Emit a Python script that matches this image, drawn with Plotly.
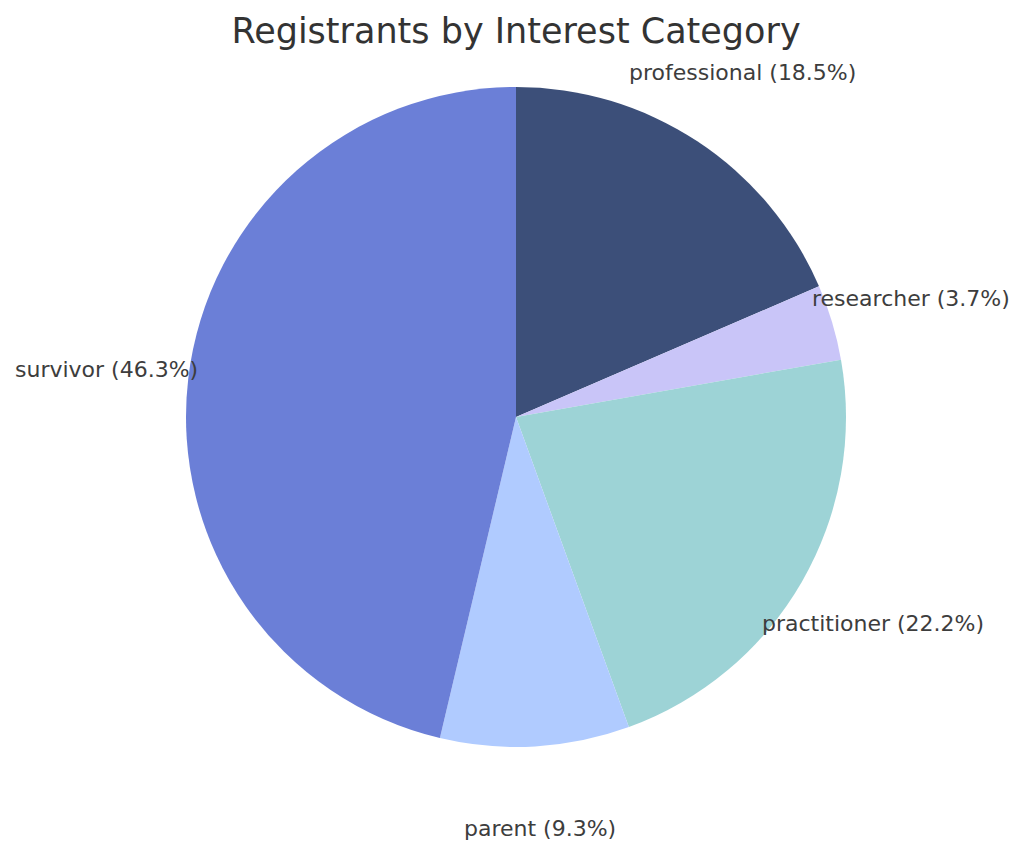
import numpy as np
import plotly.graph_objects as go

categories = ["professional", "researcher", "practitioner", "parent", "survivor"]
counts = [10, 2, 12, 5, 25]
colors = ["#3c4f79", "#c9c5f8", "#9dd3d6", "#b0cbff", "#6b7fd7"]

W, H = 1024, 856
OFF = 8  # default page body margin
cx_px, cy_px, r_px = 516 - OFF, 417 - OFF, 330

fig = go.Figure(go.Pie(
    labels=categories, values=counts, sort=False, direction="clockwise",
    rotation=0, marker=dict(colors=colors, line=dict(width=0)),
    textinfo="none", hoverinfo="label+percent", showlegend=False,
    domain=dict(x=[(cx_px - r_px) / W, (cx_px + r_px) / W],
                y=[1 - (cy_px + r_px) / H, 1 - (cy_px - r_px) / H]),
))

vals = np.array(counts, dtype=float)
frac = vals / vals.sum()
cum = np.concatenate([[0], np.cumsum(frac)])
mid = (cum[:-1] + cum[1:]) / 2 * 2 * np.pi  # clockwise from top
dist = 1.25 * r_px
for cat, f, a in zip(categories, frac, mid):
    x = cx_px + dist * np.sin(a)
    y = cy_px - dist * np.cos(a)
    fig.add_annotation(x=x / W, y=1 - y / H, xref="paper", yref="paper",
                       text=f"{cat} ({f*100:.1f}%)", showarrow=False,
                       xanchor="center", yanchor="middle",
                       font=dict(family="DejaVu Sans", size=22, color="#3d3d3d"))

fig.update_layout(
    width=W, height=H, margin=dict(l=0, r=0, t=0, b=0),
    paper_bgcolor="white", plot_bgcolor="white",
    title=dict(text="Registrants by Interest Category", x=(516 - OFF) / W, xanchor="center",
               y=1 - (31 - OFF) / H, yanchor="middle",
               font=dict(family="DejaVu Sans", size=35, color="#333333")),
)
fig.write_html("out.html")
